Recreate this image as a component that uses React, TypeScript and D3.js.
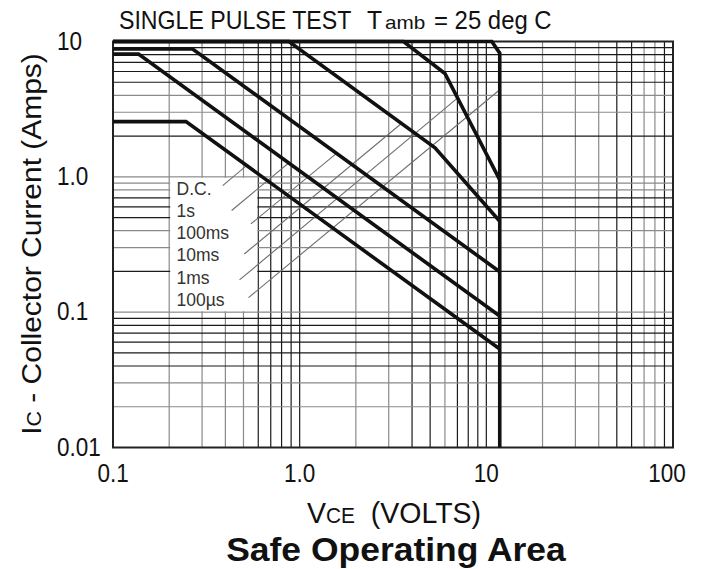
import React, { useEffect, useRef } from 'react';
import * as d3 from 'd3';

const W = 707;
const H = 569;

// curve names, in legend order
const seriesNames = ['D.C.', '1s', '100ms', '10ms', '1ms', '100\u00b5s'];

// [Vce (V), Ic (A)] break points
const dcCurve = [[0.1, 2.56], [0.246, 2.56], [11.8, 0.0534]];
const s1Curve = [[0.1, 8.07], [0.137, 8.07], [11.8, 0.0937]];
const ms100Curve = [[0.1, 8.8], [0.267, 8.8], [11.8, 0.199]];
const ms10Curve = [[0.1, 10], [0.876, 10], [5.31, 1.64], [11.8, 0.47]];
const ms1Curve = [[0.1, 10], [3.6, 10], [6.0, 5.8], [11.8, 0.95]];
const us100Curve = [[0.1, 10], [10.7, 10], [11.8, 8.2], [11.8, 0.01]];
const curves = [dcCurve, s1Curve, ms100Curve, ms10Curve, ms1Curve, us100Curve];

// leader lines from legend text to curve
const leaderStart = [[0.387, 0.862], [0.432, 0.564], [0.548, 0.449], [0.505, 0.269], [0.476, 0.173], [0.532, 0.128]];
const leaderEnd = [[0.519, 1.21], [0.873, 1.266], [1.576, 1.49], [3.52, 2.49], [7.0, 3.82], [11.8, 4.4]];
const labelV = 0.219;
const labelI = [0.736, 0.504, 0.348, 0.237, 0.162, 0.112];

// white legend panel (V range, I range)
const boxV = [0.2, 0.6];
const boxI = [0.1, 1];

const xTicks = [0.1, 1, 10, 100];
const xTickLabels = ['0.1', '1.0', '10', '100'];
const yTicks = [0.01, 0.1, 1, 10];
const yTickLabels = ['0.01', '0.1', '1.0', '10'];

// grid lines printed lighter on the original sheet
const greyV = [0.2, 0.3, 0.4, 0.5, 2, 3, 6, 20, 30, 40, 70, 80];
const greyH = [4, 3, 1, 0.9, 0.8, 0.4, 0.3, 0.1, 0.03, 0.02];

const FONT = '"Liberation Sans", Arial, Helvetica, sans-serif';

const logGrid = (lo: number, hi: number) => {
  const out: number[] = [];
  for (let e = Math.log10(lo); e < Math.log10(hi); e++) {
    for (let k = 1; k <= 9; k++) out.push(+(k * Math.pow(10, e)).toPrecision(3));
  }
  out.push(hi);
  return out;
};
const isGrey = (list: number[], v: number) => list.some(g => Math.abs(g - v) / g < 1e-6);

const App: React.FC = () => {
  const ref = useRef<SVGSVGElement | null>(null);

  useEffect(() => {
    if (!ref.current) return;
    const svg = d3.select(ref.current);
    svg.selectAll('*').remove();

    const x = d3.scaleLog().domain([0.1, 100]).range([113, 673]);
    const y = d3.scaleLog().domain([0.01, 10]).range([447.5, 41.5]);

    const g = svg.append('g');

    // grid
    g.selectAll('line.vg')
      .data(logGrid(0.1, 100))
      .enter()
      .append('line')
      .attr('x1', d => x(d)).attr('x2', d => x(d))
      .attr('y1', y(10)).attr('y2', y(0.01))
      .attr('stroke', d => (isGrey(greyV, d) ? '#8a8a8a' : '#1a1a1a'))
      .attr('stroke-width', 1.2);

    g.selectAll('line.hg')
      .data(logGrid(0.01, 10))
      .enter()
      .append('line')
      .attr('y1', d => y(d)).attr('y2', d => y(d))
      .attr('x1', x(0.1)).attr('x2', x(100))
      .attr('stroke', d => (isGrey(greyH, d) ? '#8a8a8a' : '#1a1a1a'))
      .attr('stroke-width', 1.2);

    // white legend panel
    g.append('rect')
      .attr('x', x(boxV[0]) + 1)
      .attr('y', y(boxI[1]) + 1)
      .attr('width', x(boxV[1]) - x(boxV[0]) - 2)
      .attr('height', y(boxI[0]) - y(boxI[1]) - 2)
      .attr('fill', '#fff');

    // frame
    g.append('rect')
      .attr('x', x(0.1)).attr('y', y(10))
      .attr('width', x(100) - x(0.1))
      .attr('height', y(0.01) - y(10))
      .attr('fill', 'none')
      .attr('stroke', '#222')
      .attr('stroke-width', 2);

    // leader lines
    g.selectAll('line.leader')
      .data(leaderStart)
      .enter()
      .append('line')
      .attr('x1', d => x(d[0])).attr('y1', d => y(d[1]))
      .attr('x2', (_, i) => x(leaderEnd[i][0]))
      .attr('y2', (_, i) => y(leaderEnd[i][1]))
      .attr('stroke', '#6e6e6e')
      .attr('stroke-width', 1.1);

    // SOA curves
    const line = d3.line<number[]>().x(d => x(d[0])).y(d => y(d[1]));
    g.selectAll('path.curve')
      .data(curves)
      .enter()
      .append('path')
      .attr('d', d => line(d) as string)
      .attr('fill', 'none')
      .attr('stroke', '#111')
      .attr('stroke-width', 3.6)
      .attr('stroke-linejoin', 'miter');

    // legend labels
    g.selectAll('text.lab')
      .data(seriesNames)
      .enter()
      .append('text')
      .attr('x', x(labelV))
      .attr('y', (_, i) => y(labelI[i]))
      .attr('font-family', FONT)
      .attr('font-size', 17.5)
      .attr('fill', '#333')
      .text(d => d);

    // y tick labels
    yTicks.forEach((t, i) => {
      g.append('text')
        .attr('transform', `translate(57,${y(t) + 8}) scale(0.9,1)`)
        .attr('font-family', FONT)
        .attr('font-size', 25)
        .attr('fill', '#111')
        .text(yTickLabels[i]);
    });

    // x tick labels
    xTicks.forEach((t, i) => {
      const nudge = i === xTicks.length - 1 ? -6 : 0;
      g.append('text')
        .attr('transform', `translate(${x(t) + nudge},482) scale(0.9,1)`)
        .attr('text-anchor', 'middle')
        .attr('font-family', FONT)
        .attr('font-size', 25)
        .attr('fill', '#111')
        .text(xTickLabels[i]);
    });

    // title (condensed look through a horizontal squeeze)
    const titlePart = (tx: number, size: number, sx: number, txt: string) =>
      g.append('text')
        .attr('transform', `translate(${tx},29) scale(${sx},1)`)
        .attr('font-family', FONT).attr('font-size', size).attr('fill', '#111')
        .text(txt);
    titlePart(119, 26, 0.89, 'SINGLE PULSE TEST');
    titlePart(367, 26, 0.95, 'T');
    titlePart(385, 18, 1.15, 'amb');
    titlePart(434, 26, 0.92, '= 25 deg C');

    // y axis title
    const yt = g.append('text')
      .attr('transform', 'translate(41,244) rotate(-90) scale(1.07,1)')
      .attr('text-anchor', 'middle')
      .attr('font-family', FONT).attr('font-size', 28).attr('fill', '#111');
    yt.append('tspan').text('I');
    yt.append('tspan').attr('font-size', 20).text('C');
    yt.append('tspan').text(' - Collector Current (Amps)');

    // x axis title
    const xt = g.append('text')
      .attr('transform', 'translate(394,523) scale(0.95,1)')
      .attr('text-anchor', 'middle')
      .attr('font-family', FONT).attr('font-size', 30).attr('fill', '#111');
    xt.append('tspan').text('V');
    xt.append('tspan').attr('font-size', 22).text('CE');
    xt.append('tspan').text('\u00a0\u00a0(VOLTS)');

    // caption
    g.append('text')
      .attr('transform', 'translate(396,561) scale(1.075,1)')
      .attr('text-anchor', 'middle')
      .attr('font-family', FONT).attr('font-size', 33).attr('font-weight', 'bold').attr('fill', '#111')
      .text('Safe Operating Area');
  }, []);

  return (
    <div style={{ position: 'absolute', left: 0, top: 0, width: W, height: H, background: '#fff' }}>
      <svg ref={ref} width={W} height={H} />
    </div>
  );
};

export default App;
